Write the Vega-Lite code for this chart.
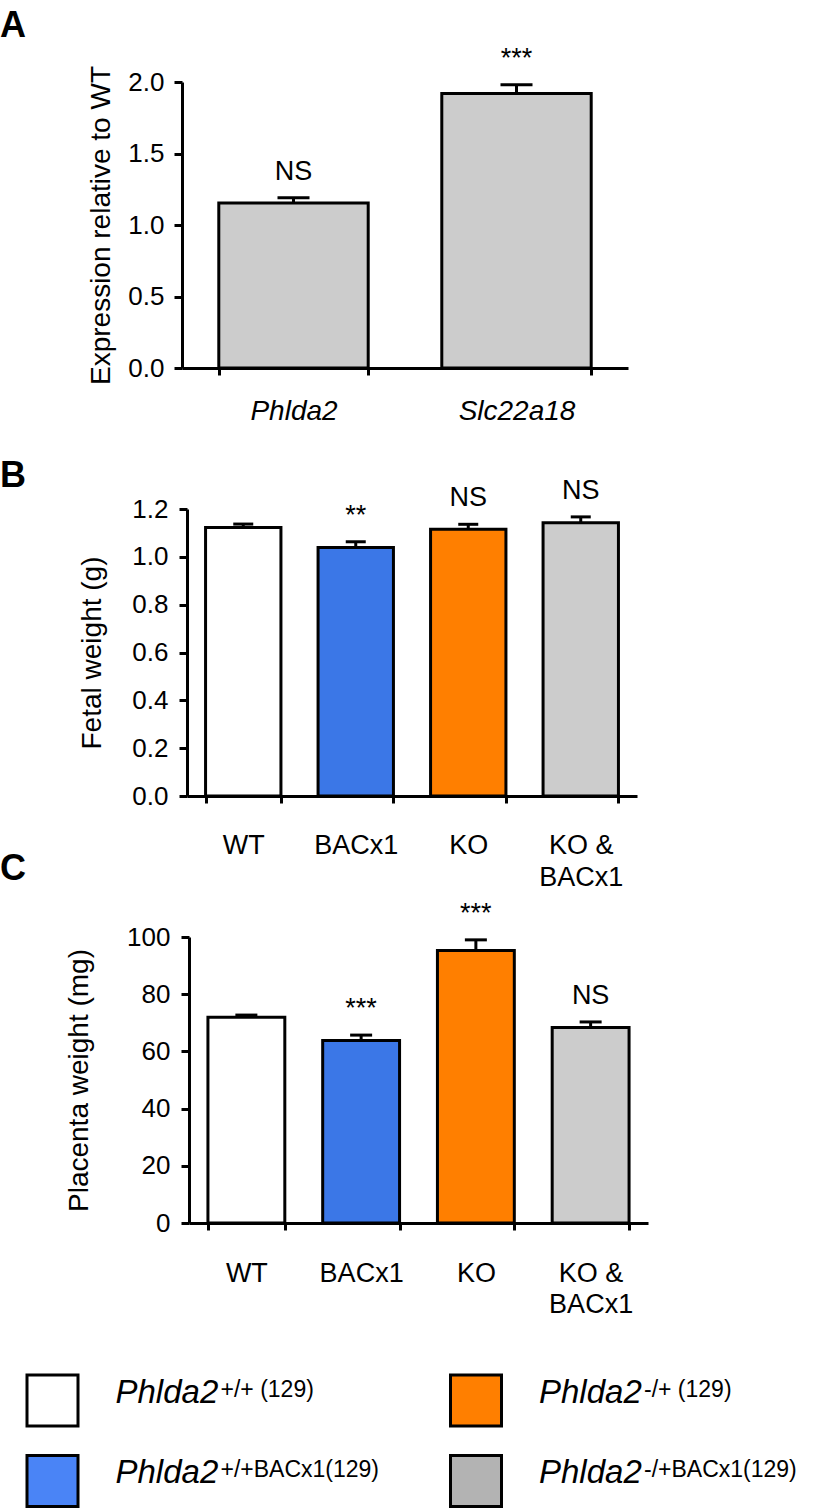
{
  "$schema": "https://vega.github.io/schema/vega-lite/v6.json",
  "padding": {"left": 0, "top": 7, "right": 0, "bottom": 0},
  "bounds": "flush",
  "spacing": 141,
  "background": "white",
  "resolve": {"scale": {"x": "independent", "y": "independent", "fill": "independent"}},
  "datasets": {
    "A": [
      {"gene": "Phlda2", "mean": 1.154, "upper": 1.19, "sig": "NS"},
      {"gene": "Slc22a18", "mean": 1.92, "upper": 1.98, "sig": "***"}
    ],
    "B": [
      {"g": "WT", "mean": 1.123, "upper": 1.137, "sig": ""},
      {"g": "BACx1", "mean": 1.039, "upper": 1.063, "sig": "**"},
      {"g": "KO", "mean": 1.115, "upper": 1.136, "sig": "NS"},
      {"g": "KO & BACx1", "mean": 1.142, "upper": 1.167, "sig": "NS"}
    ],
    "C": [
      {"g": "WT", "mean": 71.9, "upper": 72.7, "sig": ""},
      {"g": "BACx1", "mean": 63.8, "upper": 65.7, "sig": "***"},
      {"g": "KO", "mean": 95.3, "upper": 99.0, "sig": "***"},
      {"g": "KO & BACx1", "mean": 68.4, "upper": 70.3, "sig": "NS"}
    ],
    "legend": [
      {"g": "WT", "col": "left", "row": "top", "sup": "+/+ (129)"},
      {"g": "BACx1", "col": "left", "row": "bottom", "sup": "+/+BACx1(129)"},
      {"g": "KO", "col": "right", "row": "top", "sup": "-/+ (129)"},
      {"g": "KO & BACx1", "col": "right", "row": "bottom", "sup": "-/+BACx1(129)"}
    ]
  },
  "vconcat": [
    {
      "width": 446,
      "height": 286,
      "title": {"text": "A", "anchor": "start", "frame": "group", "dx": -182, "dy": 28, "fontSize": 36, "fontWeight": "bold", "font": "Liberation Sans", "color": "black", "baseline": "alphabetic", "offset": 0},
      "data": {"name": "A"},
      "encoding": {
        "x": {"field": "gene", "type": "nominal", "sort": null,
          "scale": {"paddingInner": 0.33, "paddingOuter": 0.165},
          "axis": {"title": null, "tickBand": "extent", "tickSize": 7, "labelAngle": 0, "labelFontSize": 28, "labelFontStyle": "italic", "labelBaseline": "middle", "labelPadding": 36}}
      },
      "layer": [
        {"mark": {"type": "bar", "fill": "#cccccc", "stroke": "black", "strokeWidth": 3},
         "encoding": {"y": {"field": "mean", "type": "quantitative", "title": "Expression relative to WT",
           "scale": {"domain": [0, 2], "nice": false},
           "axis": {"values": [0, 0.5, 1, 1.5, 2], "format": ".1f", "tickSize": 8, "labelPadding": 10, "labelFontSize": 26, "titleFontSize": 28, "titlePadding": 12}}}},
        {"mark": {"type": "rule", "strokeWidth": 3, "color": "black"},
         "encoding": {"y": {"field": "mean", "type": "quantitative", "title": "Expression relative to WT"}, "y2": {"field": "upper"}}},
        {"mark": {"type": "tick", "thickness": 3, "size": 32, "color": "black", "opacity": 1},
         "encoding": {"y": {"field": "upper", "type": "quantitative", "title": "Expression relative to WT"}}},
        {"mark": {"type": "text", "fontSize": 27, "font": "Liberation Sans", "baseline": "alphabetic", "dy": -18},
         "encoding": {"y": {"field": "upper", "type": "quantitative", "title": "Expression relative to WT"}, "text": {"field": "sig"}}}
      ]
    },
    {
      "width": 455,
      "height": 287,
      "title": {"text": "B", "anchor": "start", "frame": "group", "dx": -182, "dy": 46, "fontSize": 36, "fontWeight": "bold", "font": "Liberation Sans", "color": "black", "baseline": "alphabetic", "offset": 0},
      "data": {"name": "B"},
      "encoding": {
        "x": {"field": "g", "type": "nominal", "sort": null,
          "scale": {"paddingInner": 0.33, "paddingOuter": 0.165, "range": [5, 455]},
          "axis": {"title": null, "tickBand": "extent", "tickSize": 7, "labelAngle": 0, "labelFontSize": 27, "labelBaseline": "middle", "labelPadding": 42, "labelLineHeight": 32,
            "labelExpr": "datum.label == 'KO & BACx1' ? ['KO &', 'BACx1'] : datum.label"}}
      },
      "layer": [
        {"mark": {"type": "bar", "stroke": "black", "strokeWidth": 3},
         "encoding": {
           "y": {"field": "mean", "type": "quantitative", "title": "Fetal weight (g)",
             "scale": {"domain": [0, 1.2], "nice": false},
             "axis": {"values": [0, 0.2, 0.4, 0.6, 0.8, 1.0, 1.2], "format": ".1f", "offset": -5, "tickSize": 8, "labelPadding": 11, "labelFontSize": 26, "titleFontSize": 28, "titlePadding": 25}},
           "fill": {"field": "g", "type": "nominal", "legend": null,
             "scale": {"domain": ["WT", "BACx1", "KO", "KO & BACx1"], "range": ["#ffffff", "#3b77e7", "#ff7f00", "#cccccc"]}}}},
        {"mark": {"type": "rule", "strokeWidth": 3, "color": "black"},
         "encoding": {"y": {"field": "mean", "type": "quantitative", "title": "Fetal weight (g)"}, "y2": {"field": "upper"}}},
        {"mark": {"type": "tick", "thickness": 3, "size": 20, "color": "black", "opacity": 1},
         "encoding": {"y": {"field": "upper", "type": "quantitative", "title": "Fetal weight (g)"}}},
        {"mark": {"type": "text", "fontSize": 27, "font": "Liberation Sans", "baseline": "alphabetic", "dy": -18},
         "encoding": {"y": {"field": "upper", "type": "quantitative", "title": "Fetal weight (g)"}, "text": {"field": "sig"}}}
      ]
    },
    {
      "width": 466,
      "height": 286,
      "title": {"text": "C", "anchor": "start", "frame": "group", "dx": -182, "dy": 16, "fontSize": 36, "fontWeight": "bold", "font": "Liberation Sans", "color": "black", "baseline": "alphabetic", "offset": 0},
      "data": {"name": "C"},
      "encoding": {
        "x": {"field": "g", "type": "nominal", "sort": null,
          "scale": {"paddingInner": 0.33, "paddingOuter": 0.165, "range": [7, 466]},
          "axis": {"title": null, "tickBand": "extent", "tickSize": 7, "labelAngle": 0, "labelFontSize": 27, "labelBaseline": "middle", "labelPadding": 43, "labelLineHeight": 31,
            "labelExpr": "datum.label == 'KO & BACx1' ? ['KO &', 'BACx1'] : datum.label"}}
      },
      "layer": [
        {"mark": {"type": "bar", "stroke": "black", "strokeWidth": 3},
         "encoding": {
           "y": {"field": "mean", "type": "quantitative", "title": "Placenta weight (mg)",
             "scale": {"domain": [0, 100], "nice": false},
             "axis": {"values": [0, 20, 40, 60, 80, 100], "format": "d", "offset": -7, "tickSize": 8, "labelPadding": 11, "labelFontSize": 26, "titleFontSize": 28, "titlePadding": 33}},
           "fill": {"field": "g", "type": "nominal", "legend": null,
             "scale": {"domain": ["WT", "BACx1", "KO", "KO & BACx1"], "range": ["#ffffff", "#3b77e7", "#ff7f00", "#cccccc"]}}}},
        {"mark": {"type": "rule", "strokeWidth": 3, "color": "black"},
         "encoding": {"y": {"field": "mean", "type": "quantitative", "title": "Placenta weight (mg)"}, "y2": {"field": "upper"}}},
        {"mark": {"type": "tick", "thickness": 3, "size": 22, "color": "black", "opacity": 1},
         "encoding": {"y": {"field": "upper", "type": "quantitative", "title": "Placenta weight (mg)"}}},
        {"mark": {"type": "text", "fontSize": 27, "font": "Liberation Sans", "baseline": "alphabetic", "dy": -18},
         "encoding": {"y": {"field": "upper", "type": "quantitative", "title": "Placenta weight (mg)"}, "text": {"field": "sig"}}}
      ]
    },
    {
      "width": 600,
      "height": 144,
      "data": {"name": "legend"},
      "encoding": {
        "x": {"field": "col", "type": "nominal", "axis": null,
          "scale": {"type": "point", "domain": ["left", "right"], "range": [-129.5, 294], "padding": 0}},
        "y": {"field": "row", "type": "nominal", "axis": null,
          "scale": {"type": "point", "domain": ["top", "bottom"], "range": [36.5, 117], "padding": 0}}
      },
      "layer": [
        {"mark": {"type": "point", "shape": "square", "filled": true, "size": 2601, "stroke": "black", "strokeWidth": 3, "opacity": 1},
         "encoding": {"fill": {"field": "g", "type": "nominal", "legend": null,
           "scale": {"domain": ["WT", "BACx1", "KO", "KO & BACx1"], "range": ["#ffffff", "#4a84f6", "#ff7f00", "#b3b3b3"]}}}},
        {"mark": {"type": "text", "text": "Phlda2", "font": "Liberation Sans", "fontStyle": "italic", "fontSize": 33, "align": "left", "baseline": "alphabetic", "dx": 63, "dy": 2}},
        {"mark": {"type": "text", "font": "Liberation Sans", "fontSize": 23, "align": "left", "baseline": "alphabetic", "dx": 168, "dy": -4},
         "encoding": {"text": {"field": "sup"}}}
      ]
    }
  ],
  "config": {
    "view": {"stroke": null},
    "font": "Liberation Sans",
    "axis": {"domainColor": "black", "domainWidth": 3, "tickColor": "black", "tickWidth": 3, "labelColor": "black", "titleColor": "black", "labelFont": "Liberation Sans", "titleFont": "Liberation Sans", "titleFontWeight": "normal", "grid": false}
  }
}
